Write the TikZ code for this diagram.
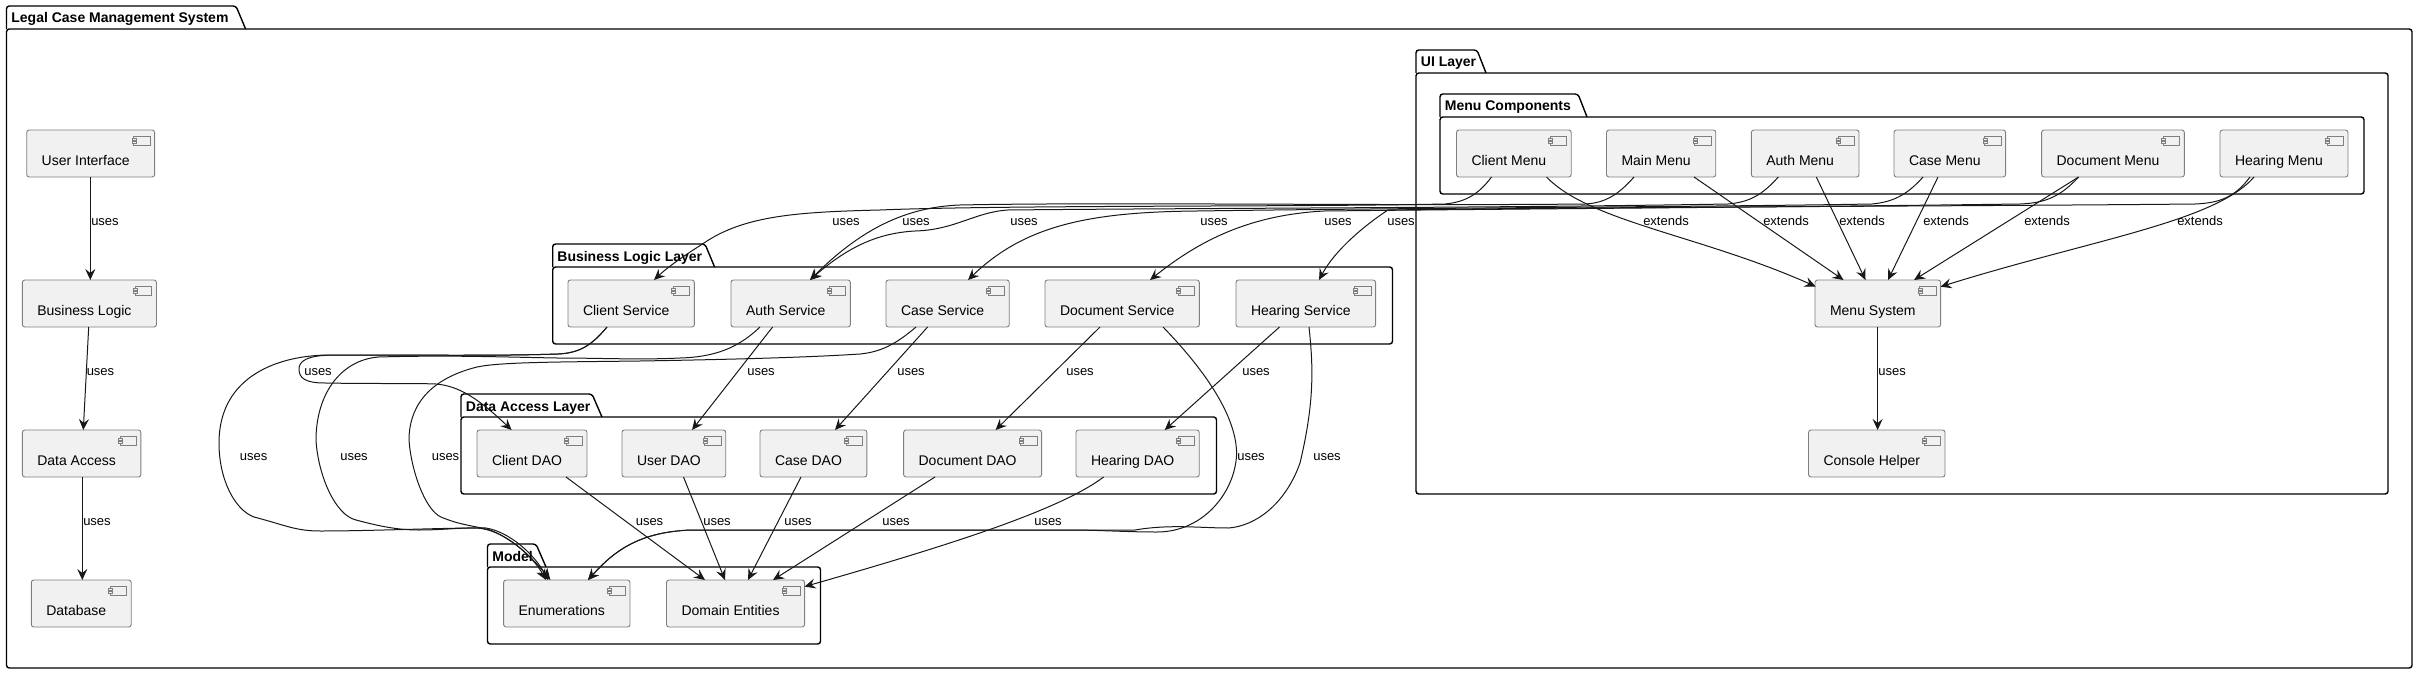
\documentclass[tikz,border=0pt]{standalone}
\usepackage{fontspec}
\setmainfont{Liberation Sans}
\usepackage{xcolor}
\definecolor{umlfill}{HTML}{F1F1F1}
\definecolor{umlline}{HTML}{181818}
\definecolor{umlborder}{HTML}{7F7F7F}
\usetikzlibrary{arrows.meta, calc}

\tikzset{
  compbox/.style={draw=umlborder, fill=umlfill, line width=0.45pt, rounded corners=1.25pt,
      anchor=north west, inner xsep=7.5pt, inner ysep=0pt, outer sep=0pt,
      text height=17.5pt, text depth=6pt, font=\fontsize{7}{8}\selectfont,
      execute at end node={\hskip 5pt}},
  pkgline/.style={draw=black, line width=0.7pt, rounded corners=1.4pt},
  pkgtitle/.style={anchor=base west, inner sep=0pt, font=\fontsize{7}{8}\selectfont\bfseries},
  edgelabel/.style={anchor=mid, inner sep=0pt, font=\fontsize{6.5}{8}\selectfont},
  usesarrow/.style={draw=umlline, line width=0.5pt, -{Stealth[length=5.5pt, width=5pt, inset=2pt]}},
}
\newcommand{\compicon}[1]{%
  \draw[umlborder, line width=0.4pt, fill=umlfill] ($(#1.north east)+(-20.9,6)$) rectangle ($(#1.north east)+(-4.6,15.7)$);
  \draw[umlborder, line width=0.4pt, fill=umlfill] ($(#1.north east)+(-22.6,8.2)$) rectangle ($(#1.north east)+(-18.6,10.2)$);
  \draw[umlborder, line width=0.4pt, fill=umlfill] ($(#1.north east)+(-22.6,11.6)$) rectangle ($(#1.north east)+(-18.6,13.6)$);
}

\begin{document}
\begin{tikzpicture}[x=0.5pt, y=-0.5pt]
\useasboundingbox (0,0) rectangle (2418,674);

% Packages
\draw[pkgline] (6.5,29) -- (6.5,6) -- (236,6) -- (245.6,29);
\draw[pkgline] (6.5,29) -- (2412,29) -- (2412,668) -- (6.5,668) -- cycle;
\node[pkgtitle] (legaltitle) at (11,23) {Legal Case Management System};

\draw[pkgline] (1416,73) -- (1416,50) -- (1477,50) -- (1486,73);
\draw[pkgline] (1416,73) -- (2388,73) -- (2388,494) -- (1416,494) -- cycle;
\node[pkgtitle] (uititle) at (1420.5,67) {UI Layer};

\draw[pkgline] (1440,117) -- (1440,94) -- (1578,94) -- (1587,117);
\draw[pkgline] (1440,117) -- (2364,117) -- (2364,194) -- (1440,194) -- cycle;
\node[pkgtitle] (menutitle) at (1444.5,111) {Menu Components};

\draw[pkgline] (552.7,267) -- (552.7,244) -- (705,244) -- (714.6,267);
\draw[pkgline] (552.7,267) -- (1392.5,267) -- (1392.5,344) -- (552.7,344) -- cycle;
\node[pkgtitle] (busititle) at (557,261) {Business Logic Layer};

\draw[pkgline] (461,417) -- (461,394) -- (592,394) -- (602,417);
\draw[pkgline] (461,417) -- (1216.5,417) -- (1216.5,494) -- (461,494) -- cycle;
\node[pkgtitle] (datatitle) at (465.5,411) {Data Access Layer};

\draw[pkgline] (487.5,567) -- (487.5,544) -- (536,544) -- (546,567);
\draw[pkgline] (487.5,567) -- (820.5,567) -- (820.5,644) -- (487.5,644) -- cycle;
\node[pkgtitle] (modeltitle) at (492,561) {Model};

% Left column
\node[compbox] (userif) at (26.7,130) {User Interface};
\node[compbox] (buslogic) at (22.3,280) {Business Logic};
\node[compbox] (dataaccess) at (22.3,430) {Data Access};
\node[compbox] (database) at (31.3,580) {Database};

% Menus
\node[compbox] (clientmenu) at (1456.5,130) {Client Menu};
\node[compbox] (mainmenu) at (1606.5,130) {Main Menu};
\node[compbox] (authmenu) at (1751.3,130) {Auth Menu};
\node[compbox] (casemenu) at (1894,130) {Case Menu};
\node[compbox] (docmenu) at (2041.6,130) {Document Menu};
\node[compbox] (hearmenu) at (2220,130) {Hearing Menu};
\node[compbox] (menusys) at (1815,280) {Menu System};
\node[compbox] (console) at (1808.5,430) {Console Helper};

% Services
\node[compbox] (clientsvc) at (568,280) {Client Service};
\node[compbox] (authsvc) at (731,280) {Auth Service};
\node[compbox] (casesvc) at (886,280) {Case Service};
\node[compbox] (docsvc) at (1045,280) {Document Service};
\node[compbox] (hearsvc) at (1236,280) {Hearing Service};

% DAOs
\node[compbox] (clientdao) at (477,430) {Client DAO};
\node[compbox] (userdao) at (622,430) {User DAO};
\node[compbox] (casedao) at (760,430) {Case DAO};
\node[compbox] (docdao) at (903.6,430) {Document DAO};
\node[compbox] (heardao) at (1076,430) {Hearing DAO};

% Model
\node[compbox] (enums) at (503.6,580) {Enumerations};
\node[compbox] (domain) at (666.5,580) {Domain Entities};

\foreach \n in {userif,buslogic,dataaccess,database,clientmenu,mainmenu,authmenu,casemenu,docmenu,hearmenu,
    menusys,console,clientsvc,authsvc,casesvc,docsvc,hearsvc,clientdao,userdao,casedao,docdao,heardao,enums,domain} {
  \compicon{\n}
}

% Left column arrows
\draw[usesarrow] ($(userif.south west)+(63.6,0)$) -- ($(buslogic.north west)+(68,0)$);
\draw[usesarrow] ($(buslogic.south west)+(66.4,0)$) -- ($(dataaccess.north west)+(61,0)$);
\draw[usesarrow] ($(dataaccess.south west)+(60,0)$) -- ($(database.north west)+(51,0)$);
\node[edgelabel] (lbla) at (105,220) {uses};
\node[edgelabel] (lblb) at (100.5,370) {uses};
\node[edgelabel] (lblc) at (97,520) {uses};

% Menus to menu system
\draw[usesarrow] ($(clientmenu.south west)+(90,0)$) .. controls (1590,222) and (1700,235) .. ($(menusys.north west)+(0.6,6.5)$);
\draw[usesarrow] ($(mainmenu.south west)+(87.5,0)$) -- ($(menusys.north west)+(28.5,0)$);
\draw[usesarrow] ($(authmenu.south west)+(65,0)$) -- ($(menusys.north west)+(50.5,0)$);
\draw[usesarrow] ($(casemenu.south west)+(44,0)$) -- ($(menusys.north west)+(73,0)$);
\draw[usesarrow] ($(docmenu.south west)+(37,0)$) -- ($(menusys.north west)+(99,0)$);
\draw[usesarrow] ($(hearmenu.south west)+(34,0)$) .. controls (2215,222) and (2090,240) .. ($(menusys.north east)+(0,6.7)$);
\node[edgelabel] (lblext1) at (1666,220) {extends};
\node[edgelabel] (lblext2) at (1786,220) {extends};
\node[edgelabel] (lblext3) at (1862,220) {extends};
\node[edgelabel] (lblext4) at (1946,220) {extends};
\node[edgelabel] (lblext5) at (2047,220) {extends};
\node[edgelabel] (lblext6) at (2200,220) {extends};
\draw[usesarrow] ($(menusys.south west)+(62.6,0)$) -- ($(console.north west)+(69.1,0)$);
\node[edgelabel] (lblcons) at (1892,370) {uses};

% Menus to services
\draw[usesarrow] ($(clientmenu.south west)+(35,0)$) .. controls (1478,195) and (1465,202) .. (1445,204)
    .. controls (1300,207) and (1000,205) .. (880,210) .. controls (800,212) and (745,215) .. (704,243)
    .. controls (690,252) and (670,265) .. ($(clientsvc.north west)+(86,0)$);
\draw[usesarrow] ($(mainmenu.south west)+(27.5,0)$) .. controls (1618,195) and (1605,203) .. (1585,204)
    .. controls (1400,206) and (1100,202) .. (960,205) .. controls (905,207) and (860,230) .. ($(authsvc.north west)+(79,0)$);
\draw[usesarrow] ($(authmenu.south west)+(27,0)$) .. controls (1762,195) and (1750,202) .. (1728,204)
    .. controls (1500,208) and (1200,208) .. (1008,210) .. controls (975,212) and (955,230) .. (915,231)
    .. controls (880,233) and (850,245) .. ($(authsvc.north west)+(79,0)$);
\draw[usesarrow] ($(casemenu.south west)+(29,0)$) .. controls (1907,195) and (1893,202) .. (1872,204)
    .. controls (1700,207) and (1400,208) .. (1197,211) .. controls (1090,212) and (1025,225) .. ($(casesvc.north west)+(82,0)$);
\draw[usesarrow] ($(docmenu.south west)+(37,0)$) .. controls (2060,197) and (2045,203) .. (2020,204)
    .. controls (1800,207) and (1500,209) .. (1324,211) .. controls (1250,215) and (1200,240) .. ($(docsvc.north west)+(105,0)$);
\draw[usesarrow] ($(hearmenu.south west)+(30,0)$) .. controls (2235,197) and (2220,203) .. (2195,204)
    .. controls (2000,206) and (1600,207) .. (1388,210) .. controls (1365,225) and (1335,250) .. ($(hearsvc.north west)+(83,0)$);
\node[edgelabel] (lblm1) at (846,220) {uses};
\node[edgelabel] (lblm2) at (916,220) {uses};
\node[edgelabel] (lblm3) at (1024,220) {uses};
\node[edgelabel] (lblm4) at (1214,220) {uses};
\node[edgelabel] (lblm5) at (1338,220) {uses};
\node[edgelabel] (lblm6) at (1401,220) {uses};

% Services to DAOs
\draw[usesarrow] ($(clientsvc.south west)+(39,0)$) .. controls (592,345) and (580,353) .. (558,354)
    .. controls (500,356) and (420,355) .. (335,355) .. controls (305,355) and (299,362) .. (299,369)
    .. controls (299,378) and (305,383) .. (325,383) .. controls (380,384) and (410,383) .. (436,384)
    .. controls (460,386) and (480,400) .. ($(clientdao.north west)+(34.6,0)$);
\draw[usesarrow] ($(authsvc.south west)+(41.6,0)$) -- ($(userdao.north west)+(70,0)$);
\draw[usesarrow] ($(casesvc.south west)+(41.6,0)$) -- ($(casedao.north west)+(75,0)$);
\draw[usesarrow] ($(docsvc.south west)+(55,0)$) -- ($(docdao.north west)+(92,0)$);
\draw[usesarrow] ($(hearsvc.south west)+(43.5,0)$) -- ($(heardao.north west)+(88.7,0)$);
\node[edgelabel] (lbls1) at (318,370) {uses};
\node[edgelabel] (lbls2) at (761,370) {uses};
\node[edgelabel] (lbls3) at (911,370) {uses};
\node[edgelabel] (lbls4) at (1080,370) {uses};
\node[edgelabel] (lbls5) at (1256,370) {uses};

% Services to enumerations
\draw[usesarrow] ($(clientsvc.south west)+(39,0)$) .. controls (592,345) and (580,353) .. (558,354)
    .. controls (500,356) and (420,355) .. (330,355) .. controls (280,355) and (219,375) .. (219,443)
    .. controls (219,480) and (235,510) .. (254,517) .. controls (285,525) and (295,531) .. (320.5,531)
    .. controls (370,531) and (440,528) .. (477,528) .. controls (505,530) and (530,555) .. ($(enums.north west)+(46.8,0)$);
\draw[usesarrow] ($(authsvc.south west)+(29,0)$) .. controls (738,348) and (715,357) .. (680,358)
    .. controls (640,360) and (600,358) .. (557,358) .. controls (500,357) and (450,355) .. (378.6,357)
    .. controls (340,360) and (316,395) .. (316,440) .. controls (318,475) and (335,515) .. (356,520)
    .. controls (375,525) and (395,530) .. (419,530) .. controls (445,530) and (465,527) .. (486,528)
    .. controls (510,532) and (535,555) .. ($(enums.north west)+(44.4,0)$);
\draw[usesarrow] ($(casesvc.south west)+(30,0)$) .. controls (895,345) and (880,352) .. (860,354)
    .. controls (800,358) and (700,360) .. (640,361) .. controls (560,362) and (500,362) .. (477,367)
    .. controls (425,380) and (409,410) .. (409,440) .. controls (411,470) and (425,510) .. (441,517)
    .. controls (460,525) and (470,525) .. (490,530) .. controls (515,540) and (535,560) .. ($(enums.north west)+(42.4,0)$);
\draw[usesarrow] ($(docsvc.south west)+(118,0)$) .. controls (1195,360) and (1236,410) .. (1236.6,453)
    .. controls (1236,490) and (1205,532) .. (1157,532) .. controls (1125,532) and (1100,530) .. (1068,530)
    .. controls (900,530) and (800,530) .. (691,530) .. controls (640,532) and (615,550) .. ($(enums.north west)+(84.4,0)$);
\draw[usesarrow] ($(hearsvc.south west)+(73,0)$) .. controls (1313,365) and (1315,400) .. (1300,463)
    .. controls (1285,505) and (1255,526) .. (1228.6,528) .. controls (1200,528) and (1170,524) .. (1135,530)
    .. controls (1000,530) and (800,530) .. (691,530) .. controls (640,532) and (615,550) .. ($(enums.north west)+(84.4,0)$);
\node[edgelabel] (lble1) at (253.6,455) {uses};
\node[edgelabel] (lble2) at (354,455) {uses};
\node[edgelabel] (lble3) at (445.5,455) {uses};
\node[edgelabel] (lble4) at (1251,455) {uses};
\node[edgelabel] (lble5) at (1327,455) {uses};

% DAOs to domain entities
\draw[usesarrow] ($(clientdao.south west)+(89,0)$) -- ($(domain.north west)+(38.5,0)$);
\draw[usesarrow] ($(userdao.south west)+(61.5,0)$) -- ($(domain.north west)+(58.5,0)$);
\draw[usesarrow] ($(casedao.south west)+(41,0)$) -- ($(domain.north west)+(81.5,0)$);
\draw[usesarrow] ($(docdao.south west)+(31.4,0)$) -- ($(domain.north west)+(106.5,0)$);
\draw[usesarrow] ($(heardao.south west)+(27.6,0)$) .. controls (1060,510) and (950,545) .. ($(domain.north east)+(0,6.6)$);
\node[edgelabel] (lbld1) at (649.5,520) {uses};
\node[edgelabel] (lbld2) at (717,520) {uses};
\node[edgelabel] (lbld3) at (798,520) {uses};
\node[edgelabel] (lbld4) at (896,520) {uses};
\node[edgelabel] (lbld5) at (1048,520) {uses};

\end{tikzpicture}
\end{document}
